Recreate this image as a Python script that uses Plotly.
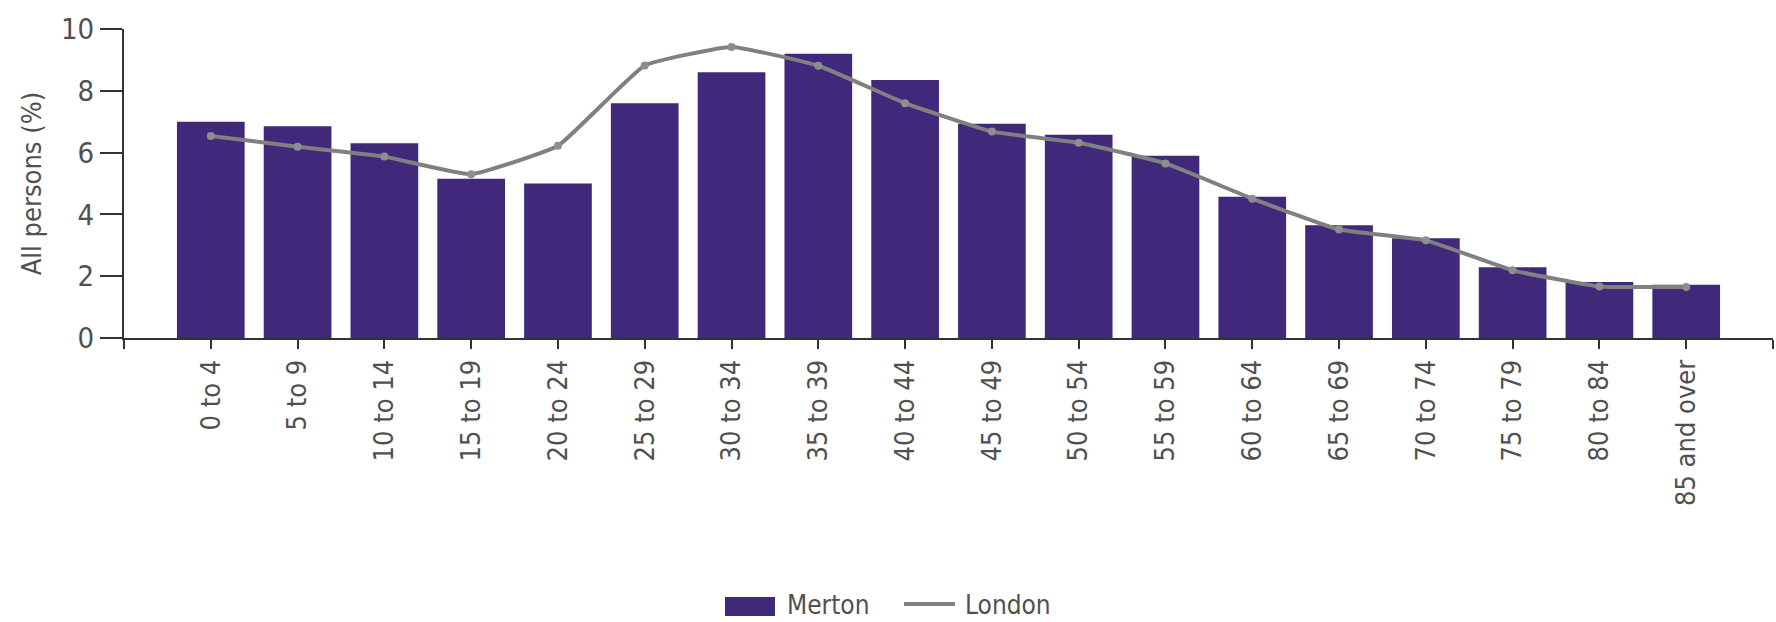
import plotly.graph_objects as go

# Age bands and population shares (%)
age_bands = ["0 to 4", "5 to 9", "10 to 14", "15 to 19", "20 to 24", "25 to 29",
             "30 to 34", "35 to 39", "40 to 44", "45 to 49", "50 to 54", "55 to 59",
             "60 to 64", "65 to 69", "70 to 74", "75 to 79", "80 to 84", "85 and over"]
merton = [7.0, 6.85, 6.3, 5.15, 5.0, 7.6, 8.6, 9.2, 8.35, 6.93, 6.58, 5.9,
          4.57, 3.65, 3.23, 2.29, 1.81, 1.72]
london = [6.54, 6.19, 5.87, 5.3, 6.22, 8.82, 9.42, 8.81, 7.6, 6.68, 6.32, 5.65,
          4.51, 3.51, 3.16, 2.19, 1.67, 1.65]
y_ticks = [0, 2, 4, 6, 8, 10]

BAR_COLOR = "#40297a"
LINE_COLOR = "#808080"
TEXT_COLOR = "#505050"
AXIS_COLOR = "#333333"
FONT = "DejaVu Sans Condensed, DejaVu Sans, sans-serif"

W, H = 1776, 622
ML, MR, MT, MB = 124, 3, 29, 284
PW, PH = W - ML - MR, H - MT - MB

x_idx = list(range(len(age_bands)))

fig = go.Figure()
fig.add_trace(go.Bar(
    x=x_idx, y=merton, name="Merton", width=0.78,
    marker=dict(color=BAR_COLOR, line=dict(width=0)),
    showlegend=False,
))
fig.add_trace(go.Scatter(
    x=x_idx, y=london, name="London", mode="lines+markers",
    line=dict(color=LINE_COLOR, width=4, shape="spline", smoothing=0.35),
    marker=dict(color="#8e8e8e", size=8, symbol="circle"),
    showlegend=False,
))

# x ticks at each band centre plus both axis ends
tickvals = [-1] + x_idx + [len(age_bands)]
ticktext = [""] + age_bands + [""]

fig.update_xaxes(
    range=[-1, len(age_bands)], tickmode="array", tickvals=tickvals, ticktext=ticktext,
    tickangle=-90, ticks="outside", ticklen=9, tickwidth=2, tickcolor=AXIS_COLOR,
    showline=True, linecolor=AXIS_COLOR, linewidth=2, showgrid=False, zeroline=False,
    tickfont=dict(family=FONT, size=27, color=TEXT_COLOR),
)
fig.update_yaxes(
    range=[0, 10], tickmode="array", tickvals=y_ticks,
    ticks="outside", ticklen=22, tickwidth=2, tickcolor=AXIS_COLOR,
    showline=True, linecolor=AXIS_COLOR, linewidth=2, showgrid=False, zeroline=False,
    tickfont=dict(family=FONT, size=29, color=TEXT_COLOR),
    title=dict(text="All persons (%)", font=dict(family=FONT, size=27, color=TEXT_COLOR),
               standoff=12),
)


def px_x(p):
    return (p - ML) / PW


def px_y(p):
    return (H - MB - p) / PH


# legend swatches and labels along the bottom
shapes = [
    dict(type="rect", xref="paper", yref="paper",
         x0=px_x(725), x1=px_x(775), y0=px_y(616), y1=px_y(597),
         fillcolor=BAR_COLOR, line=dict(width=0)),
    dict(type="line", xref="paper", yref="paper",
         x0=px_x(904), x1=px_x(955), y0=px_y(604), y1=px_y(604),
         line=dict(color=LINE_COLOR, width=4)),
]
annotations = [
    dict(text="Merton", xref="paper", yref="paper", x=px_x(785), y=px_y(605),
         xanchor="left", yanchor="middle", showarrow=False,
         font=dict(family=FONT, size=26, color=TEXT_COLOR)),
    dict(text="London", xref="paper", yref="paper", x=px_x(963), y=px_y(605),
         xanchor="left", yanchor="middle", showarrow=False,
         font=dict(family=FONT, size=26, color=TEXT_COLOR)),
]

fig.update_layout(
    width=W, height=H,
    margin=dict(l=ML, r=MR, t=MT, b=MB, pad=0),
    paper_bgcolor="white", plot_bgcolor="white",
    shapes=shapes, annotations=annotations,
    bargap=0.22,
)

fig.write_html("out.html", include_plotlyjs=True, config={"displayModeBar": False})
